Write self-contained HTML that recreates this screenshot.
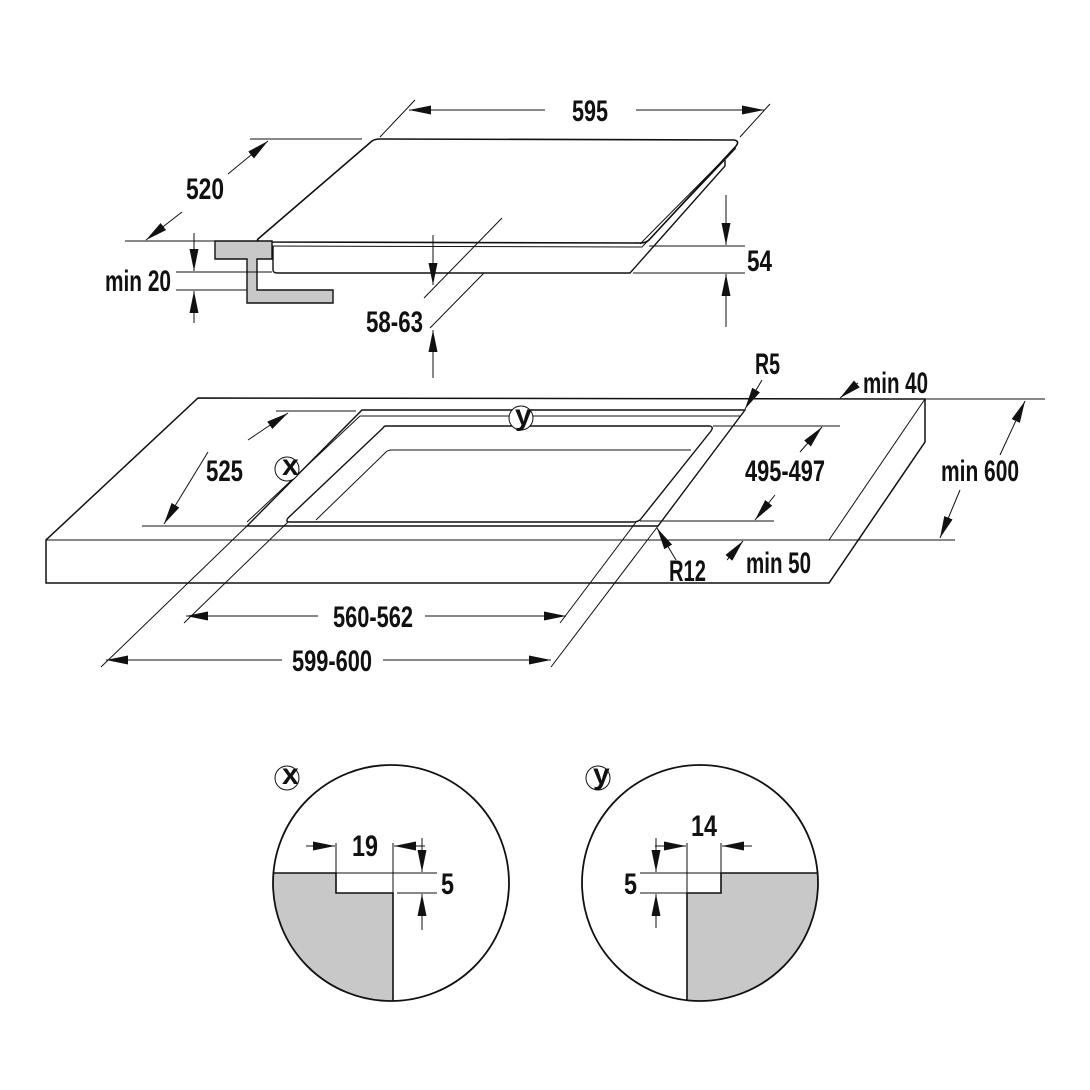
<!DOCTYPE html>
<html><head><meta charset="utf-8"><style>
html,body{margin:0;padding:0;background:#fff;}
svg{display:block;}
text{font-family:"Liberation Sans",sans-serif;font-size:30px;fill:#111;font-weight:bold;}
</style></head><body>
<svg width="1090" height="1090" viewBox="0 0 1090 1090" xmlns="http://www.w3.org/2000/svg">
<defs>
<marker id="a" markerUnits="userSpaceOnUse" markerWidth="24" markerHeight="10" refX="22" refY="4.5" orient="auto-start-reverse">
<path d="M0,0 L22,4.5 L0,9 z" fill="#111"/></marker>
</defs>
<g stroke="#111" fill="none" stroke-width="1">
<path d="M258,239 L372,141 Q375,139 380,139 L734,140 Q740,141 736,146 L649,240 Q646,243 640,243 L262,242 Q256,241 258,239 Z" stroke-width="1.6"/>
<path d="M262,246 L642,247 L736,148"/>
<path d="M273,246 L273,270 Q273,273 278,273 L630,273 L725,166 L725,160" stroke-width="1.4"/>
<path d="M640,244 L733,150"/>
<path d="M215,241 L272,241 L272,259 L257,259 L257,290 L333,290 L333,303 L247,303 L247,259 L215,259 Z" fill="#c8c8c8" stroke-width="1.4"/>
<path d="M380,137 L415,100 M740,137 L770,104"/>
<path d="M545,110 L409,110" marker-end="url(#a)"/>
<path d="M636,110 L764,110" marker-end="url(#a)"/>
<path d="M250,139 L362,139 M125,241 L258,241"/>
<path d="M182,212 L146,240" marker-end="url(#a)"/>
<path d="M228,174 L268,141" marker-end="url(#a)"/>
<path d="M176,272 L272,272 M176,290 L247,290"/>
<path d="M194,233 L194,271" marker-end="url(#a)"/>
<path d="M194,323 L194,291" marker-end="url(#a)"/>
<path d="M649,246 L745,246 M633,273 L745,273"/>
<path d="M726,195 L726,245" marker-end="url(#a)"/>
<path d="M726,327 L726,274" marker-end="url(#a)"/>
<path d="M502,218 L424,298 M484,273 L430,328"/>
<path d="M433,235 L433,285" marker-end="url(#a)"/>
<path d="M433,378 L433,330" marker-end="url(#a)"/>

<path d="M198,398 L925,399 L925,442 L829,583 L46,583 L46,540 Z" stroke-width="1.5"/>
<path d="M46,540 L829,540 L925,399"/>
<path d="M362,410 L745,410 L658,526 L247,526 Z" stroke-width="1.4"/>
<path d="M247,522 L360,416 L740,416"/>
<path d="M386,426 L710,426 Q714,427 711,431 L640,520 Q637,522 633,522 L290,522 Q285,522 288,518 L383,428 Q384,426 386,426 Z" stroke-width="1.4"/>
<path d="M316,520 L386,452 Q388,450 392,450 L691,450"/>
<circle cx="521" cy="418" r="12" fill="#fff"/>
<circle cx="287" cy="469" r="12" fill="#fff"/>
<path d="M276,411 L356,411 M142,526 L247,526"/>
<path d="M208,452 L164,524" marker-end="url(#a)"/>
<path d="M248,440 L288,413" marker-end="url(#a)"/>
<path d="M713,426 L840,426 M640,521 L774,521"/>
<path d="M800,452 L822,427" marker-end="url(#a)"/>
<path d="M775,495 L755,520" marker-end="url(#a)"/>
<path d="M925,399 L1045,399 M829,540 L955,540"/>
<path d="M1000,455 L1025,401" marker-end="url(#a)"/>
<path d="M960,490 L940,538" marker-end="url(#a)"/>
<path d="M858,383 L840,398" marker-end="url(#a)"/>
<path d="M762,380 L745,409" marker-end="url(#a)"/>
<path d="M676,560 L657,528" marker-end="url(#a)"/>
<path d="M727,560 L743,541" marker-end="url(#a)"/>
<path d="M247,526 L101,667 M658,526 L551,667 M288,522 L184,623 M636,522 L560,623"/>
<path d="M318,616 L186,616" marker-end="url(#a)"/>
<path d="M425,616 L566,616" marker-end="url(#a)"/>
<path d="M282,660 L106,660" marker-end="url(#a)"/>
<path d="M383,660 L551,660" marker-end="url(#a)"/>

<!-- DETAIL X -->
<path d="M273.4,873 L336,873 L336,893 L393,893 L393,1001 A118,118 0 0 1 273.4,873 Z" fill="#c8c8c8" stroke="none"/>
<circle cx="391" cy="883" r="118" stroke-width="1.8"/>
<path d="M273.4,873 L336,873 L336,893 L393,893 L393,1001" stroke-width="1.6"/>
<path d="M336,843 L336,873 M336,873 L437,873 M397,893 L437,893 M393,843 L393,893"/>
<path d="M306,846 L335,846" marker-end="url(#a)"/>
<path d="M425,846 L394,846" marker-end="url(#a)"/>
<path d="M422,838 L422,872" marker-end="url(#a)"/>
<path d="M422,930 L422,894" marker-end="url(#a)"/>
<circle cx="287" cy="778" r="12"/>

<!-- DETAIL Y -->
<path d="M817.6,873 L721,873 L721,893 L687,893 L687,1000 A118,118 0 0 0 817.6,873 Z" fill="#c8c8c8" stroke="none"/>
<circle cx="700" cy="883" r="118" stroke-width="1.8"/>
<path d="M817.6,873 L721,873 L721,893 L687,893 L687,1000" stroke-width="1.6"/>
<path d="M687,843 L687,893 M721,843 L721,873 M640,873 L721,873 M640,893 L687,893"/>
<path d="M655,846 L686,846" marker-end="url(#a)"/>
<path d="M752,846 L722,846" marker-end="url(#a)"/>
<path d="M656,838 L656,872" marker-end="url(#a)"/>
<path d="M656,928 L656,894" marker-end="url(#a)"/>
<circle cx="598" cy="778" r="12"/>
</g>
<g>
<text x="572" y="121" textLength="36" lengthAdjust="spacingAndGlyphs">595</text>
<text x="186" y="199" textLength="38" lengthAdjust="spacingAndGlyphs">520</text>
<text x="105" y="291" textLength="66" lengthAdjust="spacingAndGlyphs">min 20</text>
<text x="747" y="271" textLength="25" lengthAdjust="spacingAndGlyphs">54</text>
<text x="366" y="332" textLength="57" lengthAdjust="spacingAndGlyphs">58-63</text>
<text x="755" y="374" textLength="25" lengthAdjust="spacingAndGlyphs">R5</text>
<text x="863" y="393" textLength="65" lengthAdjust="spacingAndGlyphs">min 40</text>
<text x="206" y="481" textLength="37" lengthAdjust="spacingAndGlyphs">525</text>
<text x="745" y="481" textLength="80" lengthAdjust="spacingAndGlyphs">495-497</text>
<text x="941" y="481" textLength="78" lengthAdjust="spacingAndGlyphs">min 600</text>
<text x="669" y="581" textLength="37" lengthAdjust="spacingAndGlyphs">R12</text>
<text x="746" y="573" textLength="65" lengthAdjust="spacingAndGlyphs">min 50</text>
<text x="333" y="627" textLength="80" lengthAdjust="spacingAndGlyphs">560-562</text>
<text x="292" y="671" textLength="80" lengthAdjust="spacingAndGlyphs">599-600</text>
<text x="515" y="425" font-size="18">y</text>
<text x="282" y="475" font-size="18">x</text>
<text x="282" y="784" font-size="18">x</text>
<text x="593" y="784" font-size="18">y</text>
<text x="352" y="856" textLength="26" lengthAdjust="spacingAndGlyphs">19</text>
<text x="441" y="894" textLength="13" lengthAdjust="spacingAndGlyphs">5</text>
<text x="691" y="836" textLength="26" lengthAdjust="spacingAndGlyphs">14</text>
<text x="624" y="894" textLength="13" lengthAdjust="spacingAndGlyphs">5</text>
</g>
</svg>
</body></html>
